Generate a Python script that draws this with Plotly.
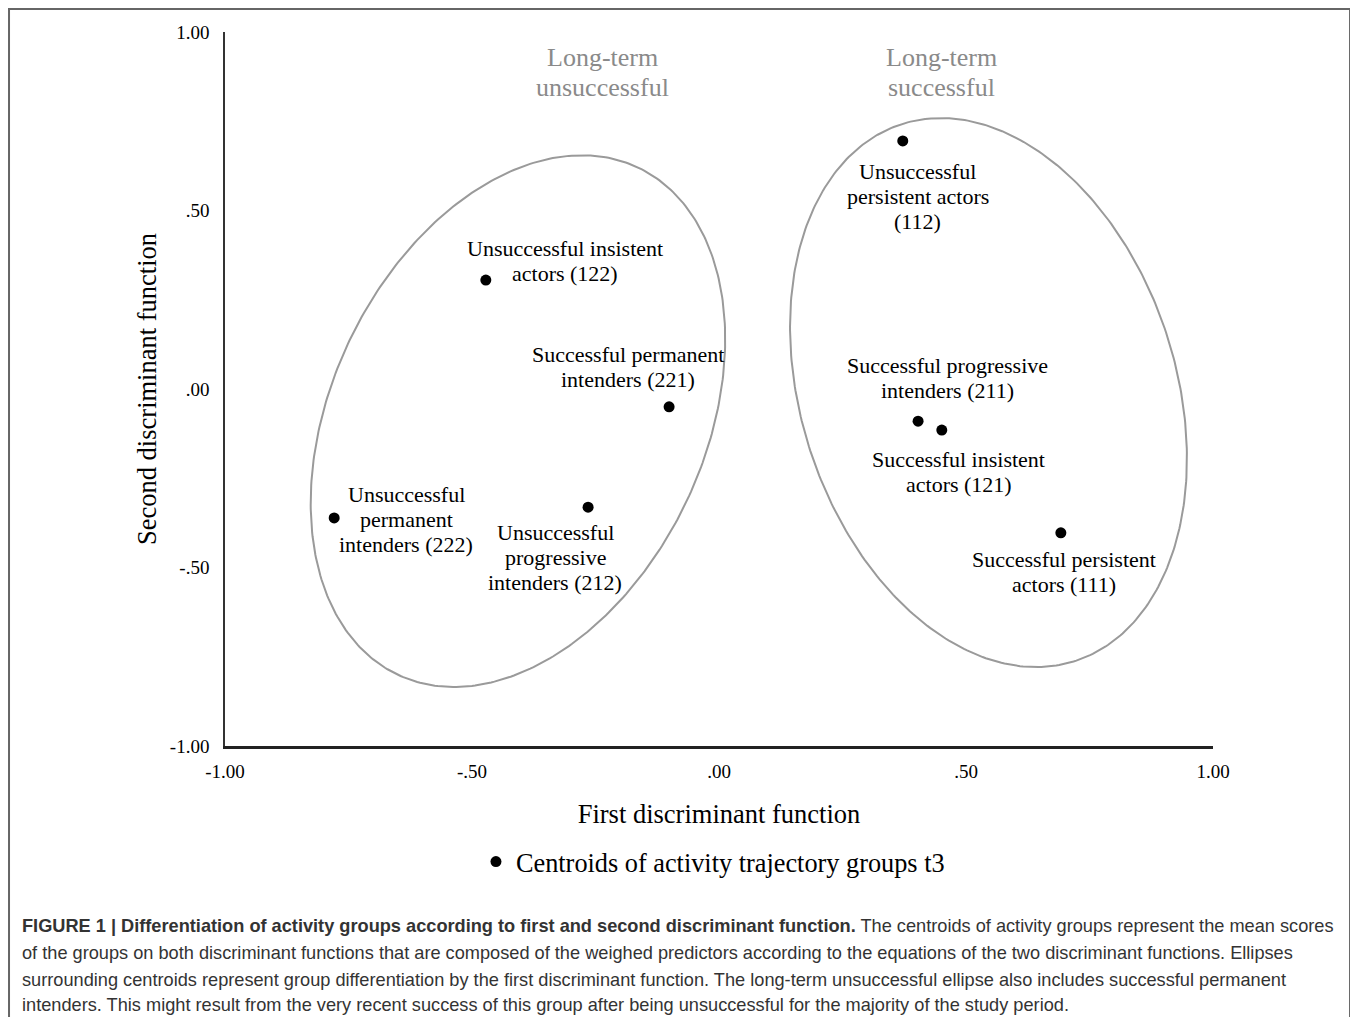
import numpy as np
import plotly.graph_objects as go

# ---- data ----
group_labels = [
    "Unsuccessful<br>persistent actors<br>(112)",
    "Unsuccessful insistent<br>actors (122)",
    "Successful permanent<br>intenders (221)",
    "Unsuccessful<br>permanent<br>intenders (222)",
    "Unsuccessful<br>progressive<br>intenders (212)",
    "Successful progressive<br>intenders (211)",
    "Successful insistent<br>actors (121)",
    "Successful persistent<br>actors (111)",
]
first_fn = [0.372, -0.472, -0.101, -0.779, -0.265, 0.403, 0.451, 0.692]
second_fn = [0.695, 0.305, -0.050, -0.361, -0.331, -0.090, -0.115, -0.403]

ellipse_names = ["Long-term<br>unsuccessful", "Long-term<br>successful"]
ellipse_cx = [-0.407, 0.5455]
ellipse_cy = [-0.090, -0.010]
ellipse_a = [0.760, 0.777]
ellipse_b = [0.391, 0.386]
ellipse_angle = [76.5, 99.5]

tick_vals = [-1.0, -0.5, 0.0, 0.5, 1.0]
tick_text = ["-1.00", "-.50", ".00", ".50", "1.00"]

caption_lines = [
    "<b>FIGURE 1 | Differentiation of activity groups according to first and second discriminant function.</b> The centroids of activity groups represent the mean scores",
    "of the groups on both discriminant functions that are composed of the weighed predictors according to the equations of the two discriminant functions. Ellipses",
    "surrounding centroids represent group differentiation by the first discriminant function. The long-term unsuccessful ellipse also includes successful permanent",
    "intenders. This might result from the very recent success of this group after being unsuccessful for the majority of the study period.",
]

# ---- layout helpers (pixel offsets of label blocks from their points) ----
label_shift = [(15, -56), (79, 19), (-41, 40), (72, -2), (-33, -50), (29, 43), (17, -42), (3, -39)]
LABEL_LINE = 25
header_pos = [(-0.235, 0.887), (0.451, 0.887)]
HEADER_LINE = 30

SERIF = "Liberation Serif, Times New Roman, serif"
SANS = "Liberation Sans, Arial, sans-serif"

fig = go.Figure()

t = np.linspace(0, 2 * np.pi, 400)
for cx, cy, a, b, ang in zip(ellipse_cx, ellipse_cy, ellipse_a, ellipse_b, ellipse_angle):
    th = np.deg2rad(ang)
    ex = cx + a * np.cos(th) * np.cos(t) - b * np.sin(th) * np.sin(t)
    ey = cy + a * np.sin(th) * np.cos(t) + b * np.cos(th) * np.sin(t)
    fig.add_trace(go.Scatter(x=ex, y=ey, mode="lines", line=dict(color="#9a9a9a", width=2),
                             showlegend=False, hoverinfo="skip"))

fig.add_trace(go.Scatter(
    x=first_fn, y=second_fn, mode="markers",
    marker=dict(color="black", size=11),
    name="Centroids of activity trajectory groups t3",
    showlegend=True,
))

annotations = []
for lab, x, y, (dx, dy) in zip(group_labels, first_fn, second_fn, label_shift):
    lines = lab.split("<br>")
    n = len(lines)
    for i, ln in enumerate(lines):
        annotations.append(dict(x=x, y=y, xref="x", yref="y", text=ln, showarrow=False,
                                xshift=dx, yshift=dy + (n - 1) / 2 * LABEL_LINE - i * LABEL_LINE,
                                font=dict(family=SERIF, size=22, color="black")))
for name, (hx, hy) in zip(ellipse_names, header_pos):
    for i, ln in enumerate(name.split("<br>")):
        annotations.append(dict(x=hx, y=hy, xref="x", yref="y", text=ln, showarrow=False,
                                yshift=HEADER_LINE / 2 - i * HEADER_LINE,
                                font=dict(family=SERIF, size=26, color="#8a8a8a")))

cap_y = [-0.2521, -0.2899, -0.3277, -0.3627]
for line, yy in zip(caption_lines, cap_y):
    annotations.append(dict(x=-0.2075, y=yy, xref="paper", yref="paper", text=line,
                            showarrow=False, xanchor="left", yanchor="middle", align="left",
                            font=dict(family=SANS, size=18.2, color="#333333")))

fig.update_layout(
    width=1350, height=1009,
    margin=dict(l=217, r=145, t=24, b=271),
    paper_bgcolor="white", plot_bgcolor="white",
    annotations=annotations,
    showlegend=True,
    legend=dict(orientation="h", x=0.254, y=-0.1625, xanchor="left", yanchor="middle",
                font=dict(family=SERIF, size=26.3, color="black"), bgcolor="rgba(0,0,0,0)"),
    shapes=[dict(type="rect", xref="paper", yref="paper", x0=-0.2186, x1=1.1387,
                 y0=-0.40, y1=1.0322, line=dict(color="#666666", width=2))],
)

fig.update_xaxes(range=[-1, 1], tickvals=tick_vals, ticktext=tick_text, showgrid=False,
                 zeroline=False, showline=True, linecolor="#222222", linewidth=3,
                 ticks="", ticklabelstandoff=6, tickfont=dict(family=SERIF, size=19, color="black"),
                 title=dict(text="First discriminant function", standoff=24,
                            font=dict(family=SERIF, size=26.5, color="black")))
fig.update_yaxes(range=[-1, 1], tickvals=tick_vals, ticktext=tick_text, showgrid=False,
                 zeroline=False, showline=True, linecolor="#333333", linewidth=1.5,
                 ticks="", ticklabelstandoff=10, tickfont=dict(family=SERIF, size=19, color="black"),
                 title=dict(text="Second discriminant function", standoff=6,
                            font=dict(family=SERIF, size=26.5, color="black")))

fig.write_html("out.html")
